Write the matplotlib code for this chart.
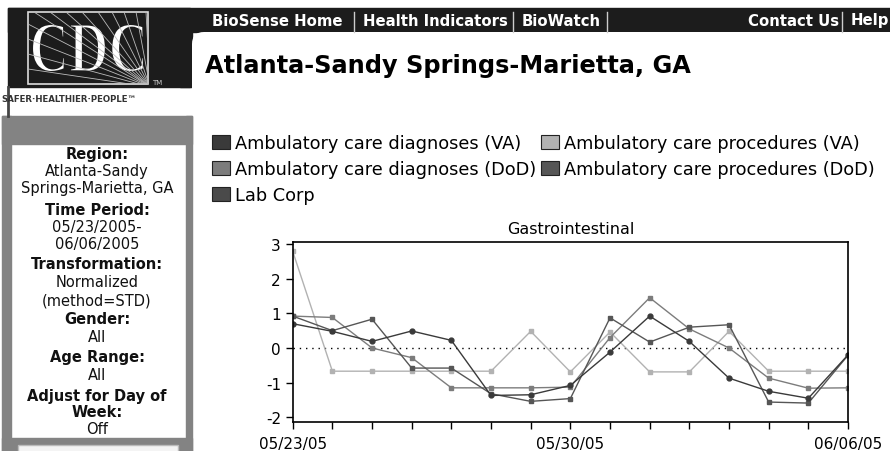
import matplotlib
matplotlib.use("Agg")
import matplotlib.pyplot as plt
from matplotlib.patches import Rectangle, FancyBboxPatch, PathPatch, Patch
from matplotlib.textpath import TextPath
from matplotlib.font_manager import FontProperties
from matplotlib.transforms import Affine2D

plt.rcParams['axes.unicode_minus'] = False

# data (normalized values, one per day)
days = list(range(15))
tick_days = [0, 7, 14]
tick_labels = ['05/23/05', '05/30/05', '06/06/05']

diag_va = [0.70, 0.48, 0.19, 0.49, 0.22, -1.37, -1.35, -1.08, -0.12, 0.92, 0.19, -0.87, -1.25, -1.45, -0.20]
proc_va = [2.79, -0.67, -0.67, -0.67, -0.67, -0.67, 0.48, -0.69, 0.46, -0.69, -0.69, 0.48, -0.67, -0.67, -0.67]
diag_dod = [0.92, 0.88, 0.0, -0.28, -1.15, -1.15, -1.15, -1.13, 0.30, 1.45, 0.55, 0.0, -0.87, -1.16, -1.15]
proc_dod = [0.92, 0.50, 0.83, -0.58, -0.58, -1.32, -1.54, -1.46, 0.87, 0.17, 0.60, 0.67, -1.56, -1.59, -0.21]

series_names = ['Ambulatory care diagnoses (VA)', 'Ambulatory care procedures (VA)',
                'Ambulatory care diagnoses (DoD)', 'Ambulatory care procedures (DoD)', 'Lab Corp']
series_colors = ['#3a3a3a', '#b2b2b2', '#7c7c7c', '#565656', '#4a4a4a']

nav_left = ['BioSense Home', 'Health Indicators', 'BioWatch']
nav_right = ['Contact Us', 'Help']
page_title = 'Atlanta-Sandy Springs-Marietta, GA'
chart_title = 'Gastrointestinal'

sidebar = [('Region:', True), ('Atlanta-Sandy', False), ('Springs-Marietta, GA', False),
           ('Time Period:', True), ('05/23/2005-', False), ('06/06/2005', False),
           ('Transformation:', True), ('Normalized', False), ('(method=STD)', False),
           ('Gender:', True), ('All', False), ('Age Range:', True), ('All', False),
           ('Adjust for Day of', True), ('Week:', True), ('Off', False)]
sidebar_y = [155, 172, 189, 211, 228, 245, 265, 283, 301, 320, 338, 358, 376, 397, 413, 430]

W, H = 890, 452
fig = plt.figure(figsize=(W / 100, H / 100), dpi=100)
fig.patch.set_facecolor('white')

# page background drawn in pixel coords
bg = fig.add_axes([0, 0, 1, 1], zorder=0)
bg.set_xlim(0, W)
bg.set_ylim(H, 0)
bg.axis('off')

dark = '#1c1c1c'
bg.add_patch(Rectangle((8, 9), W - 8, 24, color=dark))
bg.add_patch(Rectangle((8, 9), 182, 79, color=dark))
bg.add_patch(Rectangle((180, 30), 12, 58, color=dark))
bg.add_patch(FancyBboxPatch((192, 33), 900, 600, boxstyle='round,pad=0,rounding_size=12',
                            fc='white', ec='none'))

# CDC logo
bg.add_patch(Rectangle((28, 13), 120, 72, fc='none', ec='#dddddd', lw=1.2))
clip = Rectangle((28, 13), 120, 72, transform=bg.transData)
for ex, ey in [(28, 70), (28, 55), (28, 40), (28, 25), (34, 13), (50, 13), (66, 13), (82, 13),
               (98, 13), (112, 13), (124, 13), (136, 13), (146, 13)]:
    ln, = bg.plot([150, ex], [88, ey], color='#bbbbbb', lw=0.6)
    ln.set_clip_path(clip)
tp = TextPath((0, 0), 'CDC', size=1, prop=FontProperties(family='Liberation Serif', weight='bold'))
bb = tp.get_extents()
tr = Affine2D().translate(-bb.x0, -bb.y0).scale(112 / bb.width, -48 / bb.height).translate(32, 73)
bg.add_patch(PathPatch(tp, transform=tr + bg.transData, fc='white', ec=dark, lw=1.5))
bg.text(152, 83, 'TM', color='#cccccc', fontsize=5, va='center')
bg.text(1, 100, 'SAFER\u00b7HEALTHIER\u00b7PEOPLE\u2122', fontsize=6.2, weight='bold',
        color='#333333', va='center')

# sidebar frame
gray = '#838383'
bg.add_patch(Rectangle((2, 117), 190, 28, color=gray))
bg.add_patch(Rectangle((2, 117), 9, H, color=gray))
bg.add_patch(Rectangle((186, 117), 6, H, color=gray))
bg.add_patch(Rectangle((2, 439), 190, 20, color=gray))
bg.add_patch(Rectangle((18, 446), 160, 20, fc='#f4f4f4', ec='#bbbbbb', lw=1))
bg.plot([8, 8], [88, 117], color='#444444', lw=2)
for (txt, bold), y in zip(sidebar, sidebar_y):
    bg.text(97, y, txt, ha='center', va='center', fontsize=10.5,
            weight='bold' if bold else 'normal', color='#111111')

# nav bar
nav_left_x = [212, 363, 522]
nav_right_x = [748, 851]
for txt, x in zip(nav_left + nav_right, nav_left_x + nav_right_x):
    bg.text(x, 21, txt, color='white', fontsize=10.7, weight='bold', va='center')
for x in [354, 513, 607, 842]:
    bg.plot([x, x], [13, 33], color='#cccccc', lw=1)

bg.text(205, 66, page_title, fontsize=17.3, weight='bold', va='center', color='black')

# legend
handles = [Patch(facecolor=c, edgecolor='#222222', lw=0.8) for c in series_colors]
order = [0, 2, 4, 1, 3]
fig.legend([handles[i] for i in order], [series_names[i] for i in order],
           loc='upper left', bbox_to_anchor=(212 / W, 1 - 135 / H), ncol=2, frameon=False,
           fontsize=12.8, handlelength=1.0, handleheight=0.8, handletextpad=0.3,
           columnspacing=0.25, labelspacing=0.45, borderpad=0, borderaxespad=0)

# chart
ax = fig.add_axes([292.7 / W, 1 - 422.7 / H, (848 - 292.7) / W, 180 / H], zorder=2)
ax.set_xlim(0, 14)
ax.set_ylim(-2.127, 3.066)
ax.axhline(0, color='black', lw=1, ls=(0, (1, 3.5)))
ax.plot(days, proc_va, color=series_colors[1], marker='s', ms=3.5, lw=1)
ax.plot(days, diag_dod, color=series_colors[2], marker='s', ms=3.5, lw=1)
ax.plot(days, proc_dod, color=series_colors[3], marker='s', ms=3.5, lw=1)
ax.plot(days, diag_va, color=series_colors[0], marker='o', ms=3.5, lw=1)

ax.set_yticks([-2, -1, 0, 1, 2, 3])
ax.set_xticks(tick_days)
ax.set_xticklabels(tick_labels)
ax.set_xticks(days, minor=True)
ax.tick_params(axis='both', which='both', direction='out', length=5, width=1, labelsize=11)
ax.tick_params(axis='x', pad=5)
for s in ax.spines.values():
    s.set_linewidth(1.2)
ax.set_title(chart_title, fontsize=11.5, pad=6)

fig.savefig('out.png', dpi=100)
